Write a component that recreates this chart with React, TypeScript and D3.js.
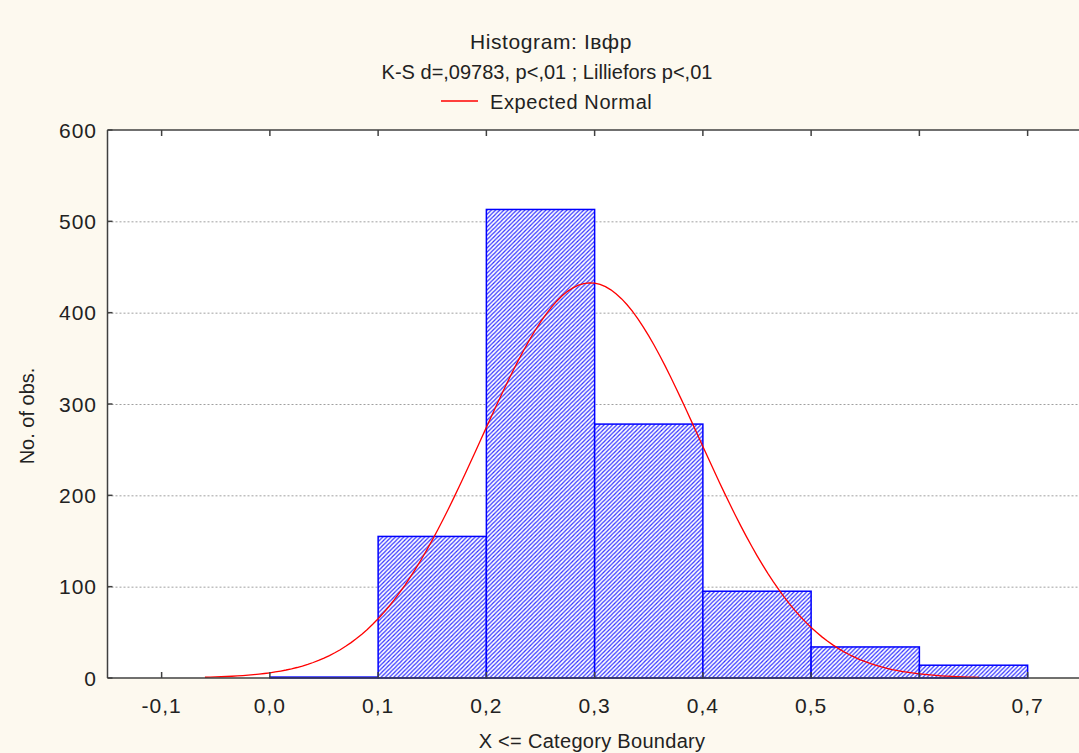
import React, { useRef, useEffect } from 'react';
import * as d3 from 'd3';

// bins: upper boundary (X <= boundary) and counts
const binStarts = [0.0, 0.1, 0.2, 0.3, 0.4, 0.5, 0.6];
const binCounts = [1, 155, 513, 278, 95, 34, 14];
const binWidth = 0.1;

// expected normal fit
const fitMean = 0.296;
const fitSd = 0.1006;
const fitN = 1091;
const curveFrom = -0.06;
const curveTo = 0.655;

const xTicks = [-0.1, 0.0, 0.1, 0.2, 0.3, 0.4, 0.5, 0.6, 0.7];
const yTicks = [0, 100, 200, 300, 400, 500, 600];

const titleLines = ['Histogram: Iвфр', 'K-S d=,09783, p<,01 ; Lilliefors p<,01'];

const W = 1079;
const H = 753;
const FONT = '"Liberation Sans", Arial, sans-serif';
const BLUE = '#0000ff';

const App = () => {
  const ref = useRef<SVGSVGElement>(null);

  useEffect(() => {
    const svg = d3.select(ref.current);
    svg.selectAll('*').remove();

    const plot = { left: 107.5, top: 130, right: 1081.75, bottom: 678 };
    const x = d3.scaleLinear().domain([-0.15, 0.75]).range([plot.left, plot.right]);
    const y = d3.scaleLinear().domain([0, 600]).range([plot.bottom, plot.top]);

    svg.append('rect').attr('width', W).attr('height', H).attr('fill', '#fdf9ef');

    // diagonal hatch for the bars
    const hs = 4.2;
    const pat = svg.append('defs').append('pattern')
      .attr('id', 'hatch')
      .attr('patternUnits', 'userSpaceOnUse')
      .attr('width', hs).attr('height', hs);
    pat.append('rect').attr('width', hs).attr('height', hs).attr('fill', '#ffffff');
    pat.append('path')
      .attr('d', `M-1,1 l2,-2 M0,${hs} l${hs},-${hs} M${hs - 1},${hs + 1} l2,-2`)
      .attr('stroke', '#3232ff')
      .attr('stroke-width', 1.2);

    svg.append('rect')
      .attr('x', plot.left).attr('y', plot.top)
      .attr('width', plot.right - plot.left).attr('height', plot.bottom - plot.top)
      .attr('fill', '#ffffff');

    // gridlines
    svg.append('g')
      .selectAll('line')
      .data(yTicks.filter(t => t > 0 && t < 600))
      .join('line')
      .attr('x1', plot.left).attr('x2', plot.right)
      .attr('y1', d => y(d) + 0.5).attr('y2', d => y(d) + 0.5)
      .attr('stroke', '#a0a0a0')
      .attr('stroke-dasharray', '2,2')
      .attr('stroke-width', 1);

    // bars
    svg.append('g')
      .selectAll('rect')
      .data(binStarts.map((s, i) => ({ s, c: binCounts[i] })))
      .join('rect')
      .attr('x', d => x(d.s))
      .attr('y', d => y(d.c))
      .attr('width', d => x(d.s + binWidth) - x(d.s))
      .attr('height', d => y(0) - y(d.c))
      .attr('fill', 'url(#hatch)')
      .attr('stroke', BLUE)
      .attr('stroke-width', 1.5);

    // expected normal curve
    const pts = d3.range(curveFrom, curveTo + 1e-9, 0.005).map(v => {
      const z = (v - fitMean) / fitSd;
      return [v, (fitN * binWidth) / (fitSd * Math.sqrt(2 * Math.PI)) * Math.exp(-0.5 * z * z)];
    });
    svg.append('path')
      .datum(pts)
      .attr('d', d3.line<number[]>().x(d => x(d[0])).y(d => y(d[1])))
      .attr('fill', 'none')
      .attr('stroke', '#ff0000')
      .attr('stroke-width', 1.3);

    // frame
    const frame = svg.append('g').attr('stroke', '#404040').attr('stroke-width', 1.5);
    frame.append('line').attr('x1', plot.left).attr('x2', plot.left).attr('y1', plot.top).attr('y2', plot.bottom);
    frame.append('line').attr('x1', plot.left).attr('x2', plot.right).attr('y1', plot.top).attr('y2', plot.top);
    frame.append('line').attr('x1', plot.left).attr('x2', plot.right).attr('y1', plot.bottom).attr('y2', plot.bottom);

    // ticks (inward)
    frame.selectAll('.yt').data(yTicks).join('line').attr('class', 'yt')
      .attr('x1', plot.left).attr('x2', plot.left + 5)
      .attr('y1', d => y(d)).attr('y2', d => y(d));
    frame.selectAll('.xb').data(xTicks).join('line').attr('class', 'xb')
      .attr('x1', d => x(d)).attr('x2', d => x(d))
      .attr('y1', plot.bottom).attr('y2', plot.bottom - 6);
    frame.selectAll('.xt').data(xTicks).join('line').attr('class', 'xt')
      .attr('x1', d => x(d)).attr('x2', d => x(d))
      .attr('y1', plot.top).attr('y2', plot.top + 6);

    const fmt = (v: number) => (Math.abs(v) < 1e-9 ? 0 : v).toFixed(1).replace('.', ',');

    const txt = svg.append('g').attr('font-family', FONT).attr('fill', '#222');
    txt.selectAll('.yl').data(yTicks).join('text').attr('class', 'yl')
      .attr('x', 97).attr('y', d => y(d) + 7.5)
      .attr('text-anchor', 'end').attr('font-size', 21).attr('letter-spacing', 1)
      .text(d => d);
    txt.selectAll('.xl').data(xTicks).join('text').attr('class', 'xl')
      .attr('x', d => x(d)).attr('y', 713)
      .attr('text-anchor', 'middle').attr('font-size', 21).attr('letter-spacing', 1)
      .text(d => fmt(d));

    txt.append('text')
      .attr('x', 592).attr('y', 748)
      .attr('text-anchor', 'middle').attr('font-size', 20).attr('letter-spacing', 0.3)
      .text('X <= Category Boundary');
    txt.append('text')
      .attr('transform', `translate(34,${(plot.top + plot.bottom) / 2 + 12}) rotate(-90)`)
      .attr('text-anchor', 'middle').attr('font-size', 20)
      .text('No. of obs.');

    txt.append('text')
      .attr('x', 551).attr('y', 49)
      .attr('text-anchor', 'middle').attr('font-size', 21).attr('letter-spacing', 0.6)
      .text(titleLines[0]);
    txt.append('text')
      .attr('x', 547).attr('y', 79)
      .attr('text-anchor', 'middle').attr('font-size', 20)
      .text(titleLines[1]);

    svg.append('line')
      .attr('x1', 441).attr('x2', 478).attr('y1', 101).attr('y2', 101)
      .attr('stroke', '#ff0000').attr('stroke-width', 1.3);
    txt.append('text')
      .attr('x', 490).attr('y', 109).attr('font-size', 20).attr('letter-spacing', 0.6)
      .text('Expected Normal');
  }, []);

  return (
    <svg ref={ref} width={W} height={H}
      style={{ position: 'absolute', left: 0, top: 0, display: 'block' }} />
  );
};

export default App;
